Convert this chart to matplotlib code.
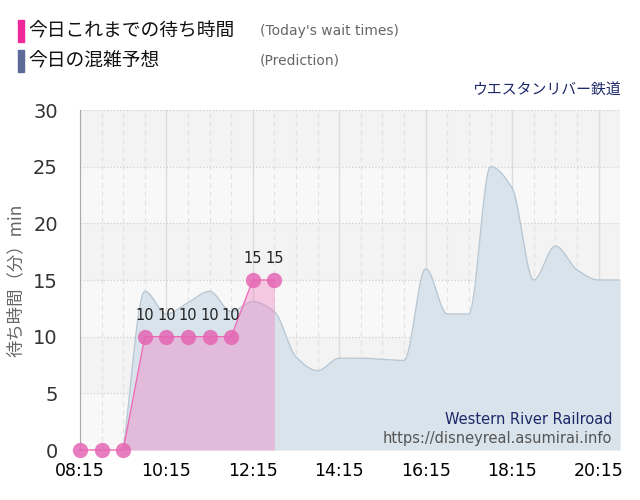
import numpy as np
import matplotlib
matplotlib.use('Agg')
import matplotlib.pyplot as plt
from matplotlib.patches import Rectangle

plt.rcParams['font.family'] = ['Noto Sans CJK JP', 'DejaVu Sans']

# times in hours
wait_times = [8.25, 8.75, 9.25, 9.75, 10.25, 10.75, 11.25, 11.75, 12.25, 12.75]
wait_values = [0, 0, 0, 10, 10, 10, 10, 10, 15, 15]

pred_times = [9.25, 9.75, 10.25, 10.75, 11.25, 11.75, 12.25, 12.75, 13.25, 13.75,
              14.25, 14.75, 15.25, 15.75, 16.25, 16.75, 17.25, 17.75, 18.25, 18.75,
              19.25, 19.75, 20.25, 20.75]
pred_values = [0, 14, 12, 13, 14, 12.2, 13.1, 12.2, 8.2, 7, 8.1, 8.1, 8, 7.9,
               16, 12, 12, 25, 23.1, 15, 18, 15.9, 15, 15]

tick_hours = [8.25, 10.25, 12.25, 14.25, 16.25, 18.25, 20.25]
tick_labels = ['08:15', '10:15', '12:15', '14:15', '16:15', '18:15', '20:15']


def smooth(x, y, n=16):
    # monotone cubic (Fritsch-Butland) just for drawing the curve
    x = np.asarray(x, float)
    y = np.asarray(y, float)
    h = np.diff(x)
    d = np.diff(y) / h
    m = np.zeros_like(y)
    m[0], m[-1] = d[0], d[-1]
    for k in range(1, len(y) - 1):
        if d[k - 1] * d[k] > 0:
            m[k] = 2.0 / (1.0 / d[k - 1] + 1.0 / d[k])
    xs, ys = [], []
    for k in range(len(h)):
        t = np.linspace(0, 1, n, endpoint=False)
        h00 = 2 * t**3 - 3 * t**2 + 1
        h10 = t**3 - 2 * t**2 + t
        h01 = -2 * t**3 + 3 * t**2
        h11 = t**3 - t**2
        xs.append(x[k] + t * h[k])
        ys.append(h00 * y[k] + h10 * h[k] * m[k] + h01 * y[k + 1] + h11 * h[k] * m[k + 1])
    xs.append([x[-1]])
    ys.append([y[-1]])
    return np.concatenate(xs), np.concatenate(ys)


fig = plt.figure(figsize=(6.4, 5.0), dpi=100)
ax = fig.add_axes([0.125, 0.1, 0.844, 0.68])

# background bands
for i in range(6):
    ax.axhspan(i * 5, i * 5 + 5, color='#f3f3f3' if i % 2 else '#f8f8f8', zorder=0, lw=0)

ax.set_xlim(8.25, 20.75)
ax.set_ylim(0, 30)

for h in np.arange(8.25, 20.8, 0.5):
    if any(abs(h - t) < 1e-6 for t in tick_hours):
        ax.axvline(h, color='#dcdcdc', lw=1, zorder=1)
    else:
        ax.axvline(h, color='#e3e3e3', lw=0.9, ls=(0, (4, 3)), zorder=1)
for v in range(5, 31, 5):
    ax.axhline(v, color='#cfcfcf', lw=0.9, ls=':', zorder=1)

# prediction
sx, sy = smooth(pred_times, pred_values)
ax.fill_between(sx, sy, 0, color='#d8e3eb', zorder=2, lw=0)
ax.plot(sx, sy, color='#b9c8d4', lw=1, zorder=3)

# today's wait times
ax.fill_between(wait_times[2:], wait_values[2:], 0, color='#f080c0', alpha=0.4, zorder=4, lw=0)
ax.plot(wait_times, wait_values, color='#f06ab8', lw=1, zorder=5, clip_on=False)
ax.plot(wait_times, wait_values, 'o', color='#e466b4', ms=11, alpha=0.85, mec='none',
        zorder=6, clip_on=False)
for t, v in zip(wait_times, wait_values):
    if v > 0:
        ax.annotate(str(v), (t, v), xytext=(0, 10), textcoords='offset points',
                    ha='center', va='bottom', fontsize=10.5, color='#222222',
                    family='DejaVu Sans', zorder=7)

ax.set_xticks(tick_hours)
ax.set_xticklabels(tick_labels, fontsize=12.5, color='black', family='DejaVu Sans')
ax.set_yticks(range(0, 31, 5))
ax.set_yticklabels([str(v) for v in range(0, 31, 5)], fontsize=14, color='#333333', family='DejaVu Sans')
ax.tick_params(axis='x', length=0, pad=9)
ax.tick_params(axis='y', length=0, pad=16)
for s in ['top', 'right', 'bottom']:
    ax.spines[s].set_visible(False)
ax.spines['left'].set_color('#aaaaaa')
ax.set_ylabel('待ち時間（分）min', fontsize=12.5, color='#666666', labelpad=6)

ax.text(0.985, 0.09, 'Western River Railroad', transform=ax.transAxes, ha='right',
        va='center', fontsize=10.5, color='#1d2868', family='DejaVu Sans', zorder=8)
ax.text(0.985, 0.035, 'https://disneyreal.asumirai.info', transform=ax.transAxes, ha='right',
        va='center', fontsize=10.5, color='#555555', family='DejaVu Sans', zorder=8)

# header legend
fig.patches.append(Rectangle((18 / 640, 1 - 42 / 500), 6 / 640, 22 / 500,
                             transform=fig.transFigure, color='#f0289a'))
fig.patches.append(Rectangle((18 / 640, 1 - 72 / 500), 6 / 640, 22 / 500,
                             transform=fig.transFigure, color='#5b6a98'))
fig.text(28 / 640, 1 - 31 / 500, '今日これまでの待ち時間', fontsize=13.5, va='center', color='#111111')
fig.text(28 / 640, 1 - 61 / 500, '今日の混雑予想', fontsize=13.5, va='center', color='#111111')
fig.text(260 / 640, 1 - 31 / 500, "(Today's wait times)", fontsize=10, va='center',
         color='#666666', family='DejaVu Sans')
fig.text(260 / 640, 1 - 61 / 500, '(Prediction)', fontsize=10, va='center',
         color='#666666', family='DejaVu Sans')
fig.text(622 / 640, 1 - 90 / 500, 'ウエスタンリバー鉄道', fontsize=10.7, ha='right', va='center', color='#1d2868')

fig.savefig('out.png', dpi=100)
